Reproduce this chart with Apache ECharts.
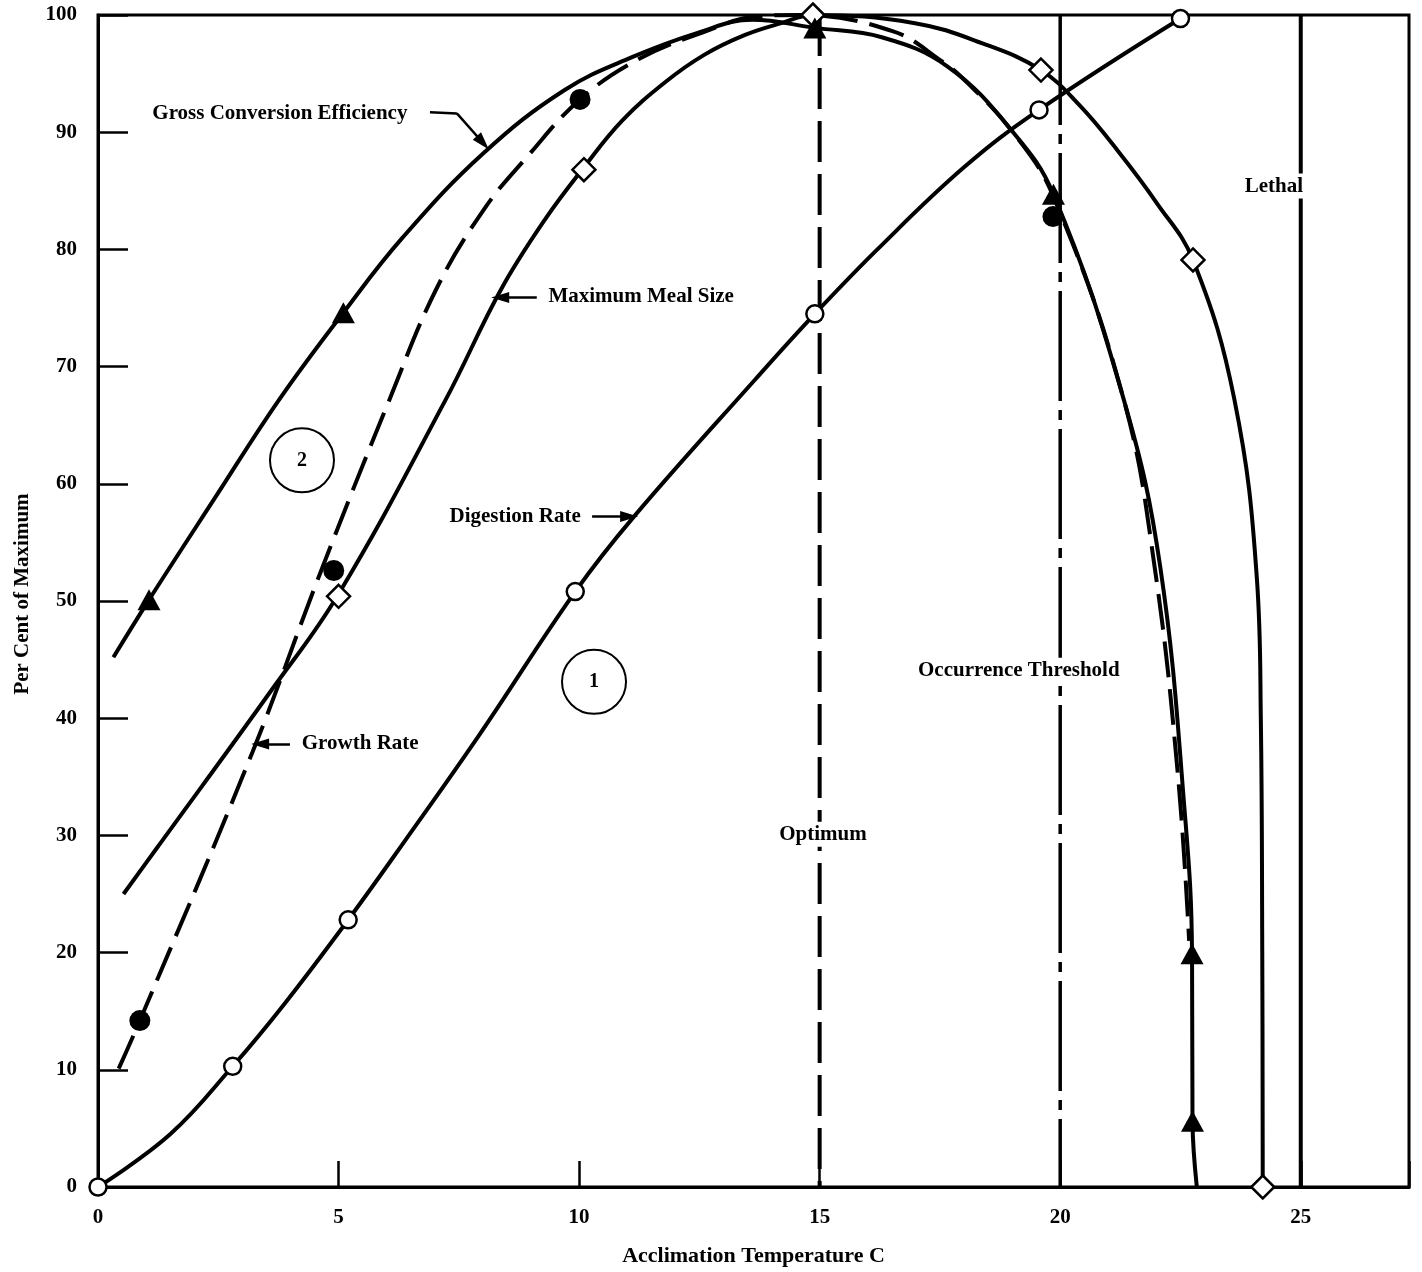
<!DOCTYPE html>
<html>
<head>
<meta charset="utf-8">
<title>Per Cent of Maximum vs Acclimation Temperature</title>
<script src="https://cdn.jsdelivr.net/npm/echarts@6/dist/echarts.min.js"></script>
<style>
  html, body { margin: 0; padding: 0; background: #fff; }
  #chart { width: 1422px; height: 1272px; }
</style>
</head>
<body>
<div id="chart"></div>
<script>
// values, as [acclimation temperature C, per cent of maximum]
const conversionCurve = [
  [0.32, 45.2], [1.06, 50.1], [2.4, 58.6], [3.77, 67.2], [5.1, 74.6], [6.33, 81.0],
  [8.01, 88.2], [9.7, 93.6], [11.1, 96.4], [12.48, 98.5], [13.6, 99.6], [14.9, 98.9],
  [16.29, 98.1], [17.66, 95.6], [18.98, 90.2], [19.86, 84.7], [21.32, 67.2], [22.08, 52.9],
  [22.6, 31.4], [22.74, 19.9], [22.75, 5.6], [22.84, 0]
]
const conversionPoints = [[1.06, 50.1], [5.1, 74.6], [14.9, 98.9], [19.86, 84.7], [22.74, 19.9], [22.75, 5.6]]

const growthCurve = [
  [0.43, 10.1], [0.87, 14.2], [3.21, 37.1], [4.63, 52.5], [6.06, 67.2], [7.03, 76.6],
  [8.02, 83.4], [8.92, 87.9], [10.02, 92.8], [11.22, 96.2], [12.56, 98.5], [13.72, 99.9],
  [14.6, 100], [16.53, 98.6], [17.56, 96.0], [17.95, 94.7], [18.98, 90.2], [19.86, 84.5],
  [21.32, 67.2], [21.97, 52.7], [22.45, 35.0], [22.68, 21.0]
]
const growthPoints = [[0.87, 14.2], [4.9, 52.6], [10.02, 92.8], [19.85, 82.8]]

const mealCurve = [
  [0.53, 25.0], [1.22, 28.9], [3.59, 42.3], [5.0, 50.6], [7.23, 67.2], [8.38, 76.6],
  [9.3, 82.6], [10.1, 87.0], [10.9, 91.0], [11.8, 94.3], [12.6, 96.6], [13.45, 98.3],
  [14.2, 99.3], [14.86, 100], [16.98, 99.3], [18.37, 97.6], [19.6, 95.3], [20.4, 92.3],
  [21.2, 88.4], [22.0, 84.0], [22.76, 79.1], [23.62, 67.2], [24.09, 51.8], [24.17, 40],
  [24.2, 20], [24.21, 0]
]
const mealPoints = [[5.0, 50.4], [10.1, 86.8], [14.86, 100], [19.6, 95.3], [22.76, 79.1], [24.21, 0]]

const digestionCurve = [
  [0, 0], [1.5, 4.5], [2.8, 10.3], [3.87, 15.6], [5.2, 22.8], [6.39, 29.6], [7.93, 38.6],
  [9.92, 50.8], [11.14, 57.2], [13.66, 68.9], [14.9, 74.5], [16.2, 80], [18.0, 87],
  [19.56, 91.9], [22.5, 99.7]
]
const digestionPoints = [[0, 0], [2.8, 10.3], [5.2, 22.8], [9.92, 50.8], [14.9, 74.5], [19.56, 91.9], [22.5, 99.7]]

const optimumTemp = 15
const thresholdTemp = 20
const lethalTemp = 25
const xMax = 27.25

// annotations (text, x, y)
const notes = [
  ['Gross Conversion Efficiency', 3.78, 91.6],
  ['Maximum Meal Size', 11.29, 76.0],
  ['Digestion Rate', 8.67, 57.2],
  ['Growth Rate', 5.45, 37.8],
  ['Occurrence Threshold', 19.14, 44.1],
  ['Optimum', 15.07, 30.1],
  ['Lethal', 24.44, 85.4]
]
const regions = [['2', 4.24, 62.0], ['1', 10.31, 43.1]]
// pointer lines: from, to, arrowhead at the end?
const pointers = [
  [[6.9, 91.7], [7.46, 91.6], false],
  [[7.46, 91.6], [8.0, 89.1], true],
  [[9.12, 75.9], [8.36, 75.9], true],
  [[10.27, 57.2], [11.04, 57.2], true],
  [[3.99, 37.8], [3.37, 37.8], true]
]

const ink = '#000'
const serif = '"Liberation Serif", "DejaVu Serif", serif'
const textStyle = { color: ink, fontFamily: serif, fontWeight: 'bold', fontSize: 21 }

function curve(name, data, type) {
  return {
    name, type: 'line', data, smooth: 0.4, symbol: 'none', silent: true, z: 3,
    lineStyle: { color: ink, width: 4, type: type || 'solid', cap: 'butt' }
  }
}

function marks(name, data, symbol, size, filled) {
  return {
    name, type: 'scatter', data, symbol, symbolSize: size, silent: true, clip: false, z: 5,
    itemStyle: { color: filled ? ink : '#fff', borderColor: ink, borderWidth: filled ? 0 : 2.5, opacity: 1 }
  }
}

function vline(x, type, width) {
  return {
    type: 'line', data: [[x, 100], [x, 0]], symbol: 'none', silent: true, z: 2,
    lineStyle: { color: ink, width, type, cap: 'butt' }
  }
}

const chart = echarts.init(document.getElementById('chart'))
const lethal = vline(lethalTemp, 'solid', 4)
lethal.markLine = {
  silent: true, symbolSize: [11, 18],
  label: { show: false },
  lineStyle: { color: ink, width: 2.5, type: 'solid' },
  data: pointers.map(p => [
    { coord: p[0], symbol: 'none' },
    { coord: p[1], symbol: p[2] ? 'triangle' : 'none' }
  ])
}

chart.setOption({
  animation: false,
  backgroundColor: '#fff',
  grid: { left: 98, right: 13, top: 15, bottom: 84, show: true, borderColor: ink, borderWidth: 3 },
  xAxis: {
    type: 'value', min: 0, max: xMax, interval: 5,
    name: 'Acclimation Temperature C', nameLocation: 'middle', nameGap: 58,
    nameTextStyle: { ...textStyle, fontSize: 22 },
    axisLine: { lineStyle: { color: ink, width: 3 } },
    axisTick: { inside: true, length: 26, lineStyle: { color: ink, width: 2.5 } },
    axisLabel: { ...textStyle, margin: 20, formatter: v => (v % 5 === 0 ? v : '') },
    splitLine: { show: false }
  },
  yAxis: {
    type: 'value', min: 0, max: 100, interval: 10,
    name: 'Per Cent of Maximum', nameLocation: 'middle', nameGap: 65, nameRotate: 90,
    nameTextStyle: { ...textStyle, padding: [0, 0, 0, 14] },
    axisLine: { lineStyle: { color: ink, width: 3 } },
    axisTick: { inside: true, length: 30, lineStyle: { color: ink, width: 2.5 } },
    axisLabel: { ...textStyle, margin: 21 },
    splitLine: { show: false }
  },
  series: [
    vline(optimumTemp, [41, 12], 4),
    vline(thresholdTemp, [110, 9, 10, 9], 3.5),
    lethal,
    curve('Digestion Rate', digestionCurve),
    curve('Maximum Meal Size', mealCurve),
    curve('Gross Conversion Efficiency', conversionCurve),
    curve('Growth Rate', growthCurve, [36, 12]),
    marks('Digestion Rate points', digestionPoints, 'circle', 17, false),
    marks('Maximum Meal Size points', mealPoints, 'diamond', 23, false),
    marks('Gross Conversion Efficiency points', conversionPoints, 'triangle', [23, 21], true),
    marks('Growth Rate points', growthPoints, 'circle', 21, true),
    {
      type: 'scatter', silent: true, clip: false, z: 6, symbolSize: 64, symbol: 'circle',
      data: regions.map(r => ({ name: r[0], value: [r[1], r[2]] })),
      itemStyle: { color: 'rgba(255,255,255,0)', borderColor: ink, borderWidth: 2, opacity: 1 },
      label: { show: true, position: 'inside', formatter: '{b}', ...textStyle, fontSize: 20 }
    },
    {
      type: 'scatter', silent: true, clip: false, z: 6, symbolSize: 0,
      data: notes.map(n => ({ name: n[0], value: [n[1], n[2]] })),
      itemStyle: { opacity: 1 },
      label: {
        show: true, position: 'inside', formatter: '{b}', ...textStyle,
        backgroundColor: '#fff', padding: [2, 2]
      }
    }
  ]
})
</script>
</body>
</html>
